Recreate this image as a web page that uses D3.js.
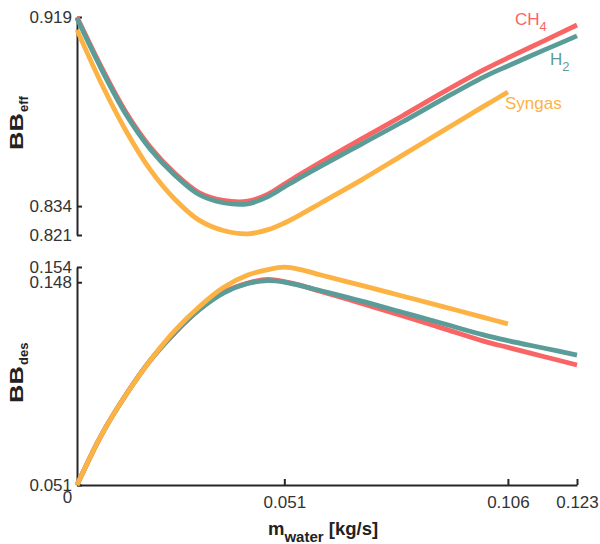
<!DOCTYPE html>
<html>
<head>
<meta charset="utf-8">
<script src="https://cdn.jsdelivr.net/npm/d3@7"></script>
<style>
  body { margin: 0; background: #fff; }
  svg { display: block; font-family: "Liberation Sans", Arial, Helvetica, sans-serif; }
  .axis path, .axis line { stroke: #262626; stroke-width: 2; }
  .axis text { font-size: 17px; fill: #333; }
</style>
</head>
<body>
<div id="chart"></div>
<script>
// water mass flow (kg/s), shared by every series
var mWater = [0, 0.006, 0.012, 0.018, 0.024, 0.030, 0.036, 0.042, 0.047, 0.051,
  0.055, 0.060, 0.070, 0.080, 0.090, 0.100, 0.106, 0.115, 0.123];

// top panel: BB_eff
var effCH4 = [0.919, 0.8965, 0.8763, 0.8606, 0.8489, 0.8401, 0.8366, 0.8362, 0.8394, 0.8439,
  0.8484, 0.8538, 0.8642, 0.8745, 0.8851, 0.8952, 0.9006, 0.9084, 0.9154];
var effH2 = [0.9184, 0.8956, 0.8754, 0.8597, 0.8480, 0.8392, 0.8355, 0.8350, 0.8383, 0.8426,
  0.8469, 0.8520, 0.8619, 0.8718, 0.8821, 0.8920, 0.8970, 0.9042, 0.9105];
var effSyngas = [0.9132, 0.8891, 0.8680, 0.8504, 0.8372, 0.8277, 0.8230, 0.8215, 0.8234, 0.8264,
  0.8302, 0.8354, 0.8458, 0.8568, 0.8678, 0.8788, 0.8853];

// bottom panel: BB_des
var desCH4 = [0.051, 0.0746, 0.0935, 0.1098, 0.1228, 0.1337, 0.1420, 0.1464, 0.1481, 0.1471,
  0.1453, 0.1424, 0.1368, 0.1310, 0.1250, 0.1190, 0.1160, 0.1116, 0.1077];
var desH2 = [0.051, 0.0746, 0.0935, 0.1098, 0.1228, 0.1337, 0.1417, 0.1462, 0.1476, 0.1469,
  0.1452, 0.1428, 0.1379, 0.1326, 0.1273, 0.1219, 0.1192, 0.1156, 0.1124];
var desSyngas = [0.051, 0.0746, 0.0935, 0.1098, 0.1238, 0.1351, 0.1443, 0.1502, 0.1528, 0.1539,
  0.1528, 0.1502, 0.1453, 0.1403, 0.1353, 0.1302, 0.1271];

// ticks
var xTicks = [0, 0.051, 0.106, 0.123];
var xTickLabels = ['0', '0.051', '0.106', '0.123'];
var effTicks = [0.821, 0.834, 0.919];
var effTickLabels = ['0.821', '0.834', '0.919'];
var desTicks = [0.051, 0.1468, 0.154];
var desTickLabels = ['0.051', '0.148', '0.154'];

var colors = { CH4: '#f96564', H2: '#5a9d98', Syngas: '#fdb244' };

var width = 600, height = 544;

var svg = d3.select('#chart').append('svg')
  .attr('width', width)
  .attr('height', height);

var x = d3.scaleLinear().domain([0, 0.123]).range([77, 577]);
var yEff = d3.scaleLinear().domain([0.821, 0.919]).range([235, 17]);
var yDes = d3.scaleLinear().domain([0.051, 0.154]).range([485, 267]);

function labelFor(ticks, labels) {
  return function(d) { return labels[ticks.indexOf(d)]; };
}

// axes (ticks point inward)
svg.append('g')
  .attr('class', 'axis')
  .attr('transform', 'translate(77,0)')
  .call(d3.axisLeft(yEff).tickValues(effTicks).tickFormat(labelFor(effTicks, effTickLabels))
    .tickSizeInner(-5).tickSizeOuter(0).tickPadding(5));

svg.append('g')
  .attr('class', 'axis')
  .attr('transform', 'translate(77,0)')
  .call(d3.axisLeft(yDes).tickValues(desTicks).tickFormat(labelFor(desTicks, desTickLabels))
    .tickSizeInner(-5).tickSizeOuter(0).tickPadding(5));

var xAxis = svg.append('g')
  .attr('class', 'axis')
  .attr('transform', 'translate(0,485)')
  .call(d3.axisBottom(x).tickValues(xTicks).tickFormat(labelFor(xTicks, xTickLabels))
    .tickSizeInner(-6).tickSizeOuter(0).tickPadding(11));

// zero label sits left of the corner, a bit higher
xAxis.selectAll('.tick').filter(function(d) { return d === 0; })
  .select('text').attr('x', -10).attr('y', 6);
xAxis.selectAll('.tick').filter(function(d) { return d === 0; })
  .select('line').remove();

// lines
function drawLines(yScale, sets) {
  sets.forEach(function(s) {
    var pts = s.values.map(function(v, i) { return [mWater[i], v]; });
    var line = d3.line()
      .x(function(d) { return x(d[0]); })
      .y(function(d) { return yScale(d[1]); })
      .curve(d3.curveCatmullRom.alpha(0.5));
    svg.append('path')
      .datum(pts)
      .attr('fill', 'none')
      .attr('stroke', colors[s.name])
      .attr('stroke-width', 4.8)
      .attr('d', line);
  });
}

drawLines(yEff, [
  { name: 'CH4', values: effCH4 },
  { name: 'H2', values: effH2 },
  { name: 'Syngas', values: effSyngas }
]);
drawLines(yDes, [
  { name: 'CH4', values: desCH4 },
  { name: 'H2', values: desH2 },
  { name: 'Syngas', values: desSyngas }
]);

// series labels
function subLabel(xp, yp, main, sub, color) {
  var t = svg.append('text')
    .attr('x', xp).attr('y', yp)
    .attr('fill', color)
    .style('font-size', '17px');
  t.append('tspan').text(main);
  if (sub) t.append('tspan').attr('dy', 6).style('font-size', '13px').text(sub);
}
subLabel(515, 25, 'CH', '4', colors.CH4);
subLabel(550, 65, 'H', '2', colors.H2);
subLabel(505, 109, 'Syngas', null, colors.Syngas);

// axis titles; the big "BB" is drawn stretched along its length like the original
function yTitle(xp, yp, sub) {
  svg.append('text')
    .attr('transform', 'translate(' + xp + ',' + yp + ') rotate(-90) scale(1.42,1)')
    .attr('fill', '#222')
    .style('font-weight', 'bold')
    .style('font-size', '18px')
    .text('BB');
  svg.append('text')
    .attr('transform', 'translate(' + (xp + 5) + ',' + (yp - 38) + ') rotate(-90)')
    .attr('fill', '#222')
    .style('font-weight', 'bold')
    .style('font-size', '13px')
    .text(sub);
}
yTitle(23, 150, 'eff');
yTitle(23, 403, 'des');

var xt = svg.append('text')
  .attr('x', 268).attr('y', 535)
  .attr('fill', '#222')
  .style('font-weight', 'bold')
  .style('font-size', '18.5px');
xt.append('tspan').text('m');
xt.append('tspan').attr('dy', 7).style('font-size', '15px').text('water');
xt.append('tspan').attr('dy', -7).text(' [kg/s]');
</script>
</body>
</html>
